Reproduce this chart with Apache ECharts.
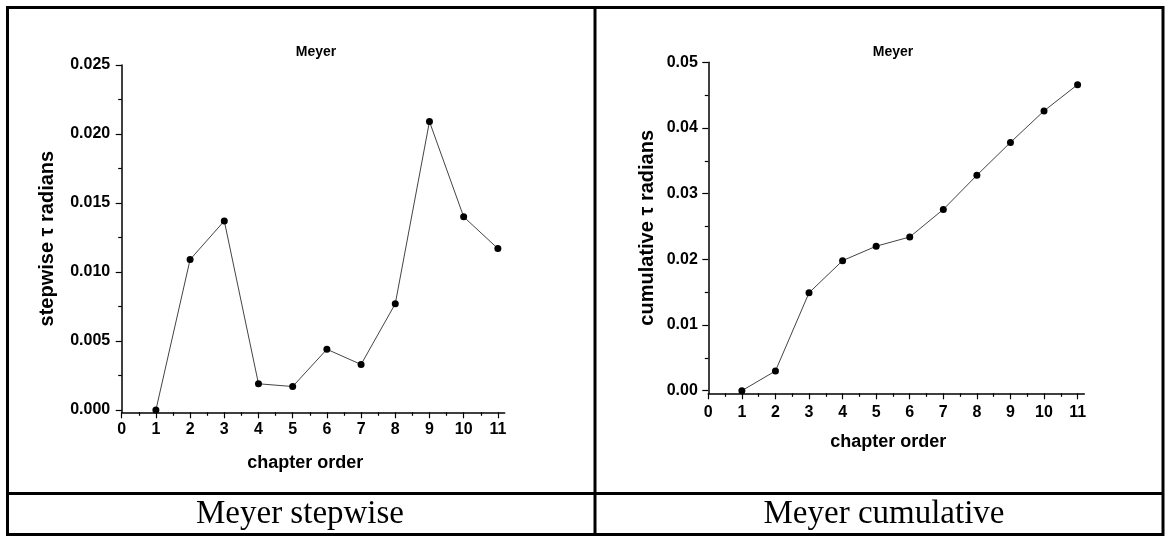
<!DOCTYPE html>
<html>
<head>
<meta charset="utf-8">
<script src="https://cdn.jsdelivr.net/npm/echarts@6/dist/echarts.min.js"></script>
<style>
html,body{margin:0;padding:0;background:#fff;}
#chart{width:1167px;height:536px;}
</style>
</head>
<body>
<div id="chart"></div>
<script>
// ---- data ----
const chapters = [1, 2, 3, 4, 5, 6, 7, 8, 9, 10, 11];
const stepwise = [0.0000, 0.0109, 0.0137, 0.0019, 0.0017, 0.0044, 0.0033, 0.0077, 0.0209, 0.0140, 0.0117];
const cumulative = [0.0000, 0.0030, 0.0149, 0.0198, 0.0220, 0.0234, 0.0276, 0.0328, 0.0378, 0.0426, 0.0466];
const xTicks = [0, 1, 2, 3, 4, 5, 6, 7, 8, 9, 10, 11];
const xMinorTicks = [0.5, 1.5, 2.5, 3.5, 4.5, 5.5, 6.5, 7.5, 8.5, 9.5, 10.5];
const leftYTicks = [0, 0.005, 0.010, 0.015, 0.020, 0.025];
const leftYMinorTicks = [0.0025, 0.0075, 0.0125, 0.0175, 0.0225];
const rightYTicks = [0, 0.01, 0.02, 0.03, 0.04, 0.05];
const rightYMinorTicks = [0.005, 0.015, 0.025, 0.035, 0.045];
const panelTitles = ['Meyer', 'Meyer'];
const captions = ['Meyer stepwise', 'Meyer cumulative'];
const xName = 'chapter order';
const yNames = ['stepwise \u03C4 radians', 'cumulative \u03C4 radians'];

const FONT = 'Liberation Sans, Arial, sans-serif';
const SERIF = 'Liberation Serif, Times New Roman, serif';

function pairs(xs, ys) { return xs.map((x, i) => [x, ys[i]]); }

function majorX(gridIndex, labelMargin, nameGap, nameShift) {
  return {
    type: 'value', gridIndex: gridIndex, position: 'bottom', offset: 0,
    min: 0, max: 11.2,
    name: xName, nameLocation: 'middle', nameGap: nameGap,
    nameTextStyle: { fontFamily: FONT, fontWeight: 'bold', fontSize: 18, color: '#000', padding: [0, nameShift, 0, 0] },
    axisLine: { show: true, onZero: false, lineStyle: { color: '#000', width: 1.5 } },
    axisTick: { show: true, length: 6, customValues: xTicks, lineStyle: { color: '#000', width: 1.2 } },
    axisLabel: { show: true, customValues: xTicks, margin: labelMargin, fontFamily: FONT, fontWeight: 'bold', fontSize: 16, color: '#000',
      formatter: v => String(Math.round(v)) },
    splitLine: { show: false }
  };
}
function minorX(gridIndex) {
  return {
    type: 'value', gridIndex: gridIndex, position: 'bottom', offset: 0,
    min: 0, max: 11.2,
    axisLine: { show: false, onZero: false },
    axisTick: { show: true, length: 3.5, customValues: xMinorTicks, lineStyle: { color: '#000', width: 1.2 } },
    axisLabel: { show: false },
    splitLine: { show: false }
  };
}
function majorY(gridIndex, min, max, ticks, digits, name, nameGap, labelMargin) {
  return {
    type: 'value', gridIndex: gridIndex, position: 'left', offset: 0,
    min: min, max: max,
    name: name, nameLocation: 'middle', nameGap: nameGap,
    nameTextStyle: { fontFamily: FONT, fontWeight: 'bold', fontSize: 20, color: '#000' },
    axisLine: { show: true, onZero: false, lineStyle: { color: '#000', width: 1.5 } },
    axisTick: { show: true, length: 6, customValues: ticks, lineStyle: { color: '#000', width: 1.2 } },
    axisLabel: { show: true, customValues: ticks, margin: labelMargin, fontFamily: FONT, fontWeight: 'bold', fontSize: 16, color: '#000',
      formatter: v => v.toFixed(digits) },
    splitLine: { show: false }
  };
}
function minorY(gridIndex, min, max, ticks) {
  return {
    type: 'value', gridIndex: gridIndex, position: 'left', offset: 0,
    min: min, max: max,
    axisLine: { show: false, onZero: false },
    axisTick: { show: true, length: 3.5, customValues: ticks, lineStyle: { color: '#000', width: 1.2 } },
    axisLabel: { show: false },
    splitLine: { show: false }
  };
}
function lineSeries(xIdx, yIdx, data) {
  return {
    type: 'line', xAxisIndex: xIdx, yAxisIndex: yIdx,
    data: data, symbol: 'circle', symbolSize: 7, showSymbol: true,
    itemStyle: { color: '#000' },
    lineStyle: { color: '#444', width: 1 },
    clip: false, animation: false, z: 5
  };
}

const chart = echarts.init(document.getElementById('chart'), null, { renderer: 'canvas' });

const B = 3; // table line width
const option = {
  backgroundColor: '#fff',
  animation: false,
  grid: [
    { left: 121.7, top: 65, width: 383, height: 347.3 },
    { left: 708.3, top: 62.3, width: 376, height: 331 }
  ],
  xAxis: [
    majorX(0, 9, 42, 16),
    minorX(0),
    majorX(1, 11, 39.5, 16),
    minorX(1)
  ],
  yAxis: [
    majorY(0, -0.000167, 0.025, leftYTicks, 3, yNames[0], 64, 11.5),
    minorY(0, -0.000167, 0.025, leftYMinorTicks),
    majorY(1, -0.0004, 0.05, rightYTicks, 2, yNames[1], 51, 10.5),
    minorY(1, -0.0004, 0.05, rightYMinorTicks)
  ],
  series: [
    lineSeries(0, 0, pairs(chapters, stepwise)),
    lineSeries(2, 2, pairs(chapters, cumulative))
  ],
  graphic: [
    // table borders
    { type: 'rect', shape: { x: 7.5, y: 7.5, width: 1155.5, height: 527 }, style: { fill: 'none', stroke: '#000', lineWidth: B }, silent: true },
    { type: 'line', shape: { x1: 595, y1: 7.5, x2: 595, y2: 534.5 }, style: { stroke: '#000', lineWidth: B }, silent: true },
    { type: 'line', shape: { x1: 7.5, y1: 493.5, x2: 1163, y2: 493.5 }, style: { stroke: '#000', lineWidth: B }, silent: true },
    // panel titles
    { type: 'text', x: 316, y: 52, style: { text: panelTitles[0], fontFamily: FONT, fontWeight: 'bold', fontSize: 14, fill: '#000', textAlign: 'center', textVerticalAlign: 'middle' }, silent: true },
    { type: 'text', x: 893, y: 52, style: { text: panelTitles[1], fontFamily: FONT, fontWeight: 'bold', fontSize: 14, fill: '#000', textAlign: 'center', textVerticalAlign: 'middle' }, silent: true },
    // captions
    { type: 'text', x: 300, y: 514, style: { text: captions[0], fontFamily: SERIF, fontSize: 33, fill: '#000', textAlign: 'center', textVerticalAlign: 'middle' }, silent: true },
    { type: 'text', x: 884, y: 514, style: { text: captions[1], fontFamily: SERIF, fontSize: 33, fill: '#000', textAlign: 'center', textVerticalAlign: 'middle' }, silent: true }
  ]
};
chart.setOption(option);
</script>
</body>
</html>
